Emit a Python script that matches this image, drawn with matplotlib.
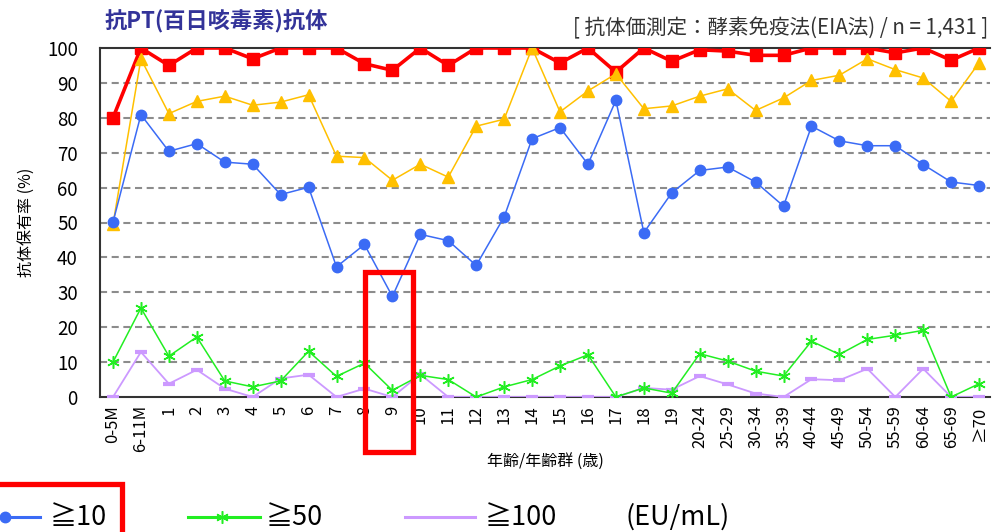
import matplotlib
matplotlib.use("Agg")
from matplotlib import pyplot as plt
from matplotlib.lines import Line2D
from matplotlib.patches import Rectangle

plt.rcParams["font.family"] = ["Noto Sans CJK JP", "DejaVu Sans"]

W, H = 992, 532

age_groups = (
    ["0-5M", "6-11M"]
    + [str(i) for i in range(1, 20)]
    + ["20-24", "25-29", "30-34", "35-39", "40-44",
       "45-49", "50-54", "55-59", "60-64", "65-69", "≥70"]
)

red_vals = [80, 100, 95, 100, 100, 96.9, 100, 100, 100, 95.5, 93.6,
            100, 95, 100, 100, 100, 95.7, 100, 93.1, 100, 96.2,
            99.5, 99.1, 97.9, 97.9, 100, 100, 100, 98.6, 100, 96.5, 100]
yellow_vals = [49.5, 96.9, 81.2, 84.7, 86.2, 83.6, 84.5, 86.6, 69.0, 68.6, 62.1,
               66.7, 63.0, 77.6, 79.6, 100, 81.7, 87.7, 92.6, 82.6, 83.4,
               86.2, 88.3, 82.1, 85.7, 90.7, 92.2, 96.9, 93.8, 91.4, 84.7, 95.8]
blue_vals = [50.1, 80.9, 70.4, 72.6, 67.3, 66.7, 58.0, 60.1, 37.3, 43.7, 28.8,
             46.6, 44.8, 37.7, 51.6, 74.0, 77.2, 66.7, 85.0, 47.1, 58.5,
             64.9, 65.9, 61.6, 54.7, 77.6, 73.4, 72.0, 72.0, 66.6, 61.6, 60.6]
green_vals = [10.0, 25.5, 11.7, 17.2, 4.6, 2.9, 4.6, 13.1, 5.9, 9.7, 1.9,
              6.2, 5.0, 0, 2.9, 5.0, 8.9, 12.1, 0, 2.6, 1.1,
              12.4, 10.3, 7.4, 6.0, 16.0, 12.2, 16.5, 17.7, 19.1, 0, 3.8]
purple_vals = [0, 12.9, 3.8, 7.8, 2.4, 0, 5.3, 6.4, 0, 2.4, 0,
               6.5, 0, 0, 0, 0, 0, 0, 0, 2.6, 2.1,
               6.0, 3.6, 1.0, 0, 5.1, 4.8, 8.1, 0, 8.1, 0, 0]

legend_labels = ["≧10", "≧50", "≧100"]

fig = plt.figure(figsize=(W / 100, H / 100), dpi=100)
ax = fig.add_axes([100 / W, 1 - 397 / H, 890 / W, 349 / H])

x = list(range(len(age_groups)))

ax.plot(x, red_vals, color="#ff0000", lw=2.6, marker="s", ms=8, zorder=3)
ax.plot(x, yellow_vals, color="#ffc000", lw=1.1, marker="^", ms=8.5, zorder=4)
ax.plot(x, blue_vals, color="#3b6bf5", lw=1.1, marker="o", ms=7.5, zorder=5)
ax.plot(x, purple_vals, color="#cc99ff", lw=1.3, marker="_", ms=8, mew=3, zorder=6)
ax.plot(x, green_vals, color="#22ee22", lw=1.1, marker=(6, 2, 0), ms=9, mew=1.1, zorder=7)

ax.set_xlim(-0.465, 31.39)
ax.set_ylim(0, 100)
ax.set_yticks(range(0, 101, 10))
ax.set_xticks(x)
ax.set_xticklabels(age_groups, rotation=90, va="top", fontsize=12)
ax.tick_params(axis="both", length=0)
ax.tick_params(axis="y", labelsize=13.5, pad=16)
ax.tick_params(axis="x", pad=6)

for yv in range(10, 100, 10):
    ax.axhline(yv, color="#8c8c8c", lw=1.5, ls=(0, (3.4, 2.2)), zorder=1)

for side in ["left", "bottom", "top"]:
    ax.spines[side].set_color("#333333")
    ax.spines[side].set_linewidth(1.5)
ax.spines["right"].set_visible(False)

ax.set_xlabel("年齢/年齢群 (歳)", fontsize=11.5, labelpad=1)
ax.set_ylabel("抗体保有率 (%)", fontsize=11.5, labelpad=9)


def px(xp, yp):
    return xp / W, 1 - yp / H


fig.text(*px(105, 22), "抗PT(百日咳毒素)抗体", fontsize=16, fontweight="bold",
         color="#333399", ha="left", va="center")
fig.text(*px(988, 28), "[ 抗体価測定：酵素免疫法(EIA法) / n = 1,431 ]",
         fontsize=14.8, color="#333333", ha="right", va="center")

# legend row at the bottom
leg_y = 517
leg_items = [
    (-28, 40, 5, "#3b6bf5", "o", 7.5, 1, 50),
    (188, 260, 222, "#22ee22", (6, 2, 0), 9, 1.1, 266),
    (405, 475, None, "#cc99ff", None, 0, 0, 485),
]
for (x0, x1, xm, col, mk, ms, mew, xt), lab in zip(leg_items, legend_labels):
    fig.add_artist(Line2D([x0 / W, x1 / W], [1 - leg_y / H] * 2, color=col,
                          lw=2.2, transform=fig.transFigure))
    if mk is not None:
        fig.add_artist(Line2D([xm / W], [1 - leg_y / H], color=col, marker=mk,
                              ms=ms, mew=mew, transform=fig.transFigure))
    fig.text(*px(xt, leg_y), lab, fontsize=19.5, ha="left", va="center")
fig.text(*px(625, leg_y), "(EU/mL)", fontsize=19.5, ha="left", va="center")

# red highlight boxes
fig.add_artist(Rectangle(px(365, 452), 48 / W, 180 / H, fill=False,
                         ec="#ff0000", lw=3.8, transform=fig.transFigure))
fig.add_artist(Rectangle(px(-5, 545), 127 / W, 61 / H, fill=False,
                         ec="#ff0000", lw=3.8, transform=fig.transFigure))

fig.savefig("out.png", dpi=100)
